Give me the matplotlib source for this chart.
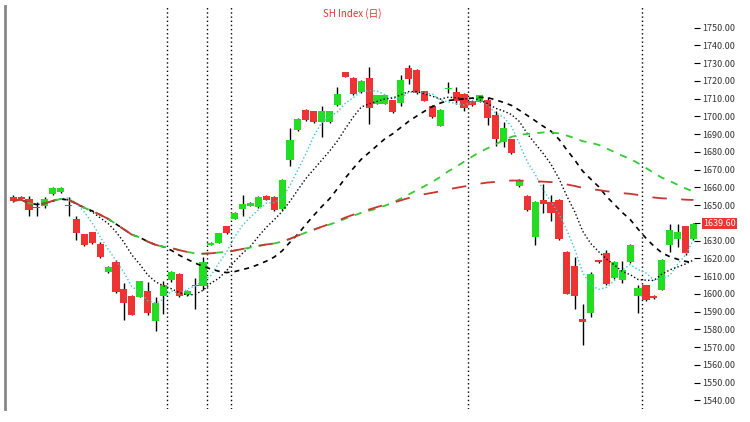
import matplotlib
matplotlib.use("Agg")
import matplotlib.pyplot as plt
import numpy as np
import pandas as pd

opens = [1654.7,1654.7,1653.6,1648.8,1649.3,1656.3,1657.4,1649.6,1642.3,1633.6,1634.7,1628.2,1612.6,1618.0,1602.9,1599.1,1598.5,1601.8,1585.0,1599.1,1607.7,1611.5,1599.6,1604.5,1604.5,1627.7,1628.8,1638.0,1642.3,1647.7,1649.8,1648.8,1655.2,1654.7,1647.7,1675.2,1692.5,1703.8,1702.8,1696.8,1696.8,1706.5,1724.9,1721.7,1713.6,1721.7,1707.1,1707.1,1709.2,1707.6,1727.1,1726.0,1714.1,1706.0,1694.7,1715.2,1713.6,1712.5,1708.7,1708.2,1709.2,1700.6,1685.5,1687.1,1660.6,1655.2,1632.0,1653.1,1652.0,1653.1,1623.4,1615.8,1586.1,1589.4,1619.0,1622.8,1608.8,1607.7,1618.0,1599.1,1605.0,1599.1,1602.3,1627.7,1630.9,1638.0,1630.9]
closes = [1652.5,1653.6,1647.1,1648.2,1653.6,1659.6,1659.6,1649.3,1634.2,1627.7,1628.8,1620.7,1615.3,1601.2,1594.8,1588.3,1607.2,1589.4,1594.8,1605.0,1612.6,1599.1,1601.8,1604.2,1618.0,1628.8,1634.2,1634.2,1645.5,1650.9,1651.5,1654.7,1653.1,1647.1,1664.4,1686.6,1698.4,1697.9,1696.8,1702.8,1702.8,1712.5,1722.2,1712.5,1720.0,1704.9,1711.9,1711.9,1702.2,1720.6,1721.1,1713.0,1708.7,1699.5,1703.8,1715.5,1708.7,1704.9,1706.5,1711.9,1699.0,1687.1,1693.6,1679.5,1664.4,1647.1,1652.0,1650.4,1645.5,1630.9,1600.2,1599.1,1584.0,1611.5,1618.0,1605.6,1618.0,1613.7,1627.7,1603.4,1596.4,1597.5,1619.1,1635.8,1634.7,1622.8,1639.6]
highs = [1655.5,1655.2,1655.2,1652.0,1654.5,1660.0,1660.0,1654.7,1643.9,1634.0,1635.0,1629.0,1616.0,1619.0,1606.1,1599.5,1607.5,1606.6,1598.0,1607.2,1613.0,1612.0,1602.0,1608.8,1620.7,1629.0,1634.5,1638.5,1646.0,1655.8,1652.0,1655.0,1655.5,1655.0,1665.0,1693.6,1699.0,1704.2,1703.0,1706.0,1703.0,1716.3,1725.2,1722.0,1720.5,1728.1,1712.2,1712.2,1709.5,1723.3,1729.2,1726.5,1714.5,1706.5,1704.0,1719.5,1716.3,1713.0,1709.0,1712.0,1710.9,1703.3,1696.8,1687.5,1665.0,1655.5,1652.5,1661.7,1655.8,1653.5,1624.0,1620.7,1594.2,1612.6,1619.3,1625.0,1618.3,1618.5,1628.0,1605.0,1605.3,1599.3,1619.5,1639.6,1639.6,1638.5,1640.0]
lows = [1652.0,1653.0,1643.9,1643.9,1648.5,1655.7,1657.0,1643.9,1630.4,1627.0,1628.0,1620.0,1612.0,1600.5,1585.6,1588.0,1598.0,1588.3,1579.1,1588.8,1607.0,1598.5,1599.0,1591.5,1602.3,1627.5,1628.5,1634.0,1642.0,1643.9,1649.5,1648.5,1652.8,1646.8,1647.0,1672.0,1692.0,1697.5,1696.5,1688.2,1696.5,1706.0,1722.0,1712.0,1713.0,1695.7,1706.8,1706.8,1702.0,1706.0,1718.4,1712.5,1708.5,1699.0,1694.5,1713.0,1707.0,1703.3,1706.0,1708.0,1695.2,1683.3,1682.8,1679.0,1660.0,1646.8,1627.7,1645.5,1641.2,1630.5,1600.0,1591.5,1571.0,1587.2,1617.7,1605.0,1608.5,1606.1,1617.7,1589.4,1596.0,1597.3,1602.0,1623.4,1626.6,1622.0,1630.5]
yticks = list(range(1540, 1760, 10))
title = "SH Index (日)"

plt.rcParams['font.family'] = ['Noto Sans CJK SC', 'DejaVu Sans']
fig = plt.figure(figsize=(7.5, 4.22), dpi=100)
ax = fig.add_axes([0.007, 0.03, 0.926, 0.955])
n = len(closes)
x = np.arange(n)
o = np.array(opens); c = np.array(closes); h = np.array(highs); l = np.array(lows)
up = c >= o
cols = np.where(up, '#22dd22', '#ee3333')
ax.vlines(x, l, h, color='black', lw=1, zorder=2)
ax.bar(x, np.maximum(np.abs(c - o), 0.6), bottom=np.minimum(o, c), width=0.9, color=cols, zorder=3)

s = pd.Series(c)
ax.plot(x, s.rolling(5, min_periods=1).mean(), color='#33cccc', ls=':', lw=1, zorder=4)
ax.plot(x, s.rolling(10, min_periods=1).mean(), color='black', ls=':', lw=1, zorder=4)
ax.plot(x, s.rolling(20, min_periods=1).mean(), color='black', ls=(0, (3, 3)), lw=1.2, zorder=4)
ax.plot(x, s.rolling(40, min_periods=1).mean(), color='#33cc33', ls=(0, (4, 4)), lw=1.3, zorder=4)
ax.plot(x, s.expanding().mean(), color='#cc3333', ls=(0, (8, 8)), lw=1.3, zorder=4)

for v in [19.5, 24.5, 27.5, 57.5, 79.5]:
    ax.axvline(v, color='black', ls=(0, (1, 2)), lw=1, zorder=1)

ax.set_xlim(-1, n - 0.2)
ax.set_ylim(1535, 1762)
ax.yaxis.tick_right()
ax.set_yticks(yticks)
ax.set_yticklabels([f"{t:.2f}" for t in yticks], fontsize=6.5, color='#333333')
ax.tick_params(axis='y', length=4, direction='in', pad=2)
ax.set_xticks([])
for sp in ['top', 'bottom', 'right']:
    ax.spines[sp].set_visible(False)
ax.spines['left'].set_color('#888888')
ax.spines['left'].set_linewidth(2)
ax.text(1.005, c[-1], f"{c[-1]:.2f}", transform=ax.get_yaxis_transform(), fontsize=6.5,
        color='white', va='center', ha='left',
        bbox=dict(boxstyle='square,pad=0.15', fc='#ee3333', ec='none'))
ax.text(0.5, 0.995, title, transform=ax.transAxes, fontsize=7, color='#ee3333',
        ha='center', va='top')
fig.savefig('out.png', dpi=100)
